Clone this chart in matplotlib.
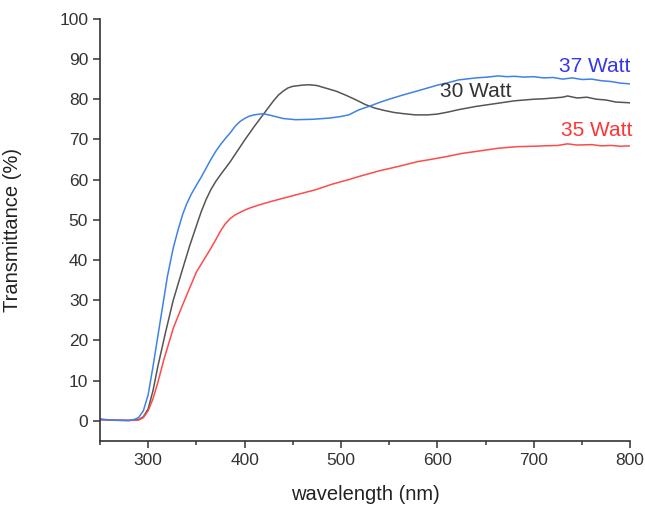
import matplotlib
matplotlib.use("Agg")
import matplotlib.pyplot as plt
from matplotlib.ticker import MultipleLocator

plt.rcParams['font.family'] = ['Liberation Sans', 'DejaVu Sans']

# transmittance spectra (wavelength in nm, T in %)
wl_37 = [250, 260, 270, 280, 285, 290, 295, 300, 305, 310, 316, 320, 326, 331, 336,
         340, 345, 350, 355, 360, 365, 370, 375, 380, 385, 390, 395, 400, 405, 410,
         419, 425, 430, 440, 453, 470, 488, 500, 508, 519, 529, 540, 550, 565, 577,
         590, 600, 611, 622, 640, 652, 663, 672, 680, 690, 700, 710, 720, 730, 740,
         750, 760, 770, 780, 790, 800]
t_37 = [0.5, 0.2, 0.1, 0.1, 0.3, 0.8, 2.5, 6.5, 13.5, 21, 30, 36, 43, 47.5, 51.5,
        54, 56.5, 58.6, 60.6, 62.8, 65, 67, 68.7, 70.2, 71.6, 73.2, 74.4, 75.2, 75.8, 76.1,
        76.4, 76.1, 75.8, 75.2, 74.9, 75.0, 75.3, 75.7, 76.1, 77.4, 78.2, 79.2, 80, 81.1, 81.9,
        82.8, 83.5, 84.1, 84.8, 85.3, 85.5, 85.8, 85.6, 85.7, 85.5, 85.6, 85.3, 85.4, 85.0, 85.3,
        84.9, 85.0, 84.6, 84.4, 84.0, 83.8]

wl_30 = [250, 260, 280, 290, 295, 300, 305, 310, 318, 326, 336, 343, 350, 355, 360,
         365, 370, 375, 380, 385, 390, 395, 400, 405, 410, 415, 420, 425, 430, 435,
         440, 445, 450, 460, 467, 475, 485, 495, 505, 515, 525, 535, 545, 555, 565,
         577, 590, 600, 611, 622, 640, 663, 680, 690, 700, 710, 720, 730, 735, 745,
         755, 765, 775, 785, 800]
t_30 = [0.3, 0.2, 0.1, 0.3, 1, 3, 7.5, 13.5, 22, 30, 38, 43.5, 48.5, 52, 55,
        57.5, 59.5, 61.2, 62.8, 64.4, 66.2, 68, 69.8, 71.5, 73.2, 74.8, 76.4, 78, 79.6, 81,
        82, 82.8, 83.2, 83.5, 83.6, 83.4, 82.7, 82, 81, 79.9, 78.7, 77.8, 77.2, 76.7, 76.4,
        76.1, 76.1, 76.3, 76.8, 77.4, 78.2, 79, 79.6, 79.8, 80, 80.1, 80.3, 80.5, 80.8, 80.3,
        80.5, 80, 79.8, 79.3, 79.1]

wl_35 = [250, 260, 280, 290, 295, 300, 305, 310, 316, 326, 336, 350, 364, 370, 375,
         380, 385, 390, 395, 400, 405, 410, 415, 428, 450, 474, 490, 508, 519, 540,
         560, 580, 595, 611, 625, 640, 663, 683, 700, 710, 725, 735, 745, 760, 770,
         780, 790, 800]
t_35 = [0.3, 0.2, 0.1, 0.2, 0.8, 2.5, 5.5, 9.5, 15, 23, 29, 37, 42.5, 45, 47.2,
        49, 50.3, 51.2, 51.8, 52.4, 52.9, 53.3, 53.7, 54.6, 56, 57.5, 58.8, 60, 60.8, 62.2,
        63.3, 64.5, 65.1, 65.8, 66.5, 67, 67.8, 68.2, 68.3, 68.4, 68.5, 68.9, 68.6, 68.7, 68.4,
        68.5, 68.3, 68.4]

fig = plt.figure(figsize=(6.45, 5.08), dpi=100)
ax = fig.add_axes([0.155, 0.132, 0.822, 0.831])

ax.plot(wl_30, t_30, color='#555555', lw=1.1)
ax.plot(wl_35, t_35, color='#ff4a4a', lw=1.1)
ax.plot(wl_37, t_37, color='#3f82e6', lw=1.1)

ax.text(800, 86.8, "37 Watt", color='#3535ee', fontsize=15, ha='right', va='baseline')
ax.text(603, 80.6, "30 Watt", color='#333333', fontsize=15, ha='left', va='baseline')
ax.text(802, 70.9, "35 Watt", color='#ff3535', fontsize=15, ha='right', va='baseline',
        clip_on=False)

ax.set_xlim(250, 800)
ax.set_ylim(-5, 100)
ax.xaxis.set_major_locator(MultipleLocator(100))
ax.xaxis.set_minor_locator(MultipleLocator(50))
ax.yaxis.set_major_locator(MultipleLocator(10))

for s in ['top', 'right']:
    ax.spines[s].set_visible(False)
for s in ['left', 'bottom']:
    ax.spines[s].set_linewidth(1.2)
    ax.spines[s].set_color('#333333')

ax.tick_params(which='major', direction='out', length=5, width=1.1, color='#333333',
               labelsize=12.5, labelcolor='#333333')
ax.tick_params(which='minor', direction='out', length=3, width=1.1, color='#333333')

ax.set_xlabel("wavelength (nm)", fontsize=14.5, color='#222222')
ax.set_ylabel("Transmittance (%)", fontsize=14.5, color='#222222')
ax.yaxis.set_label_coords(-0.147, 0.5)
ax.xaxis.set_label_coords(0.5, -0.105)

fig.savefig("out.png", dpi=100)
